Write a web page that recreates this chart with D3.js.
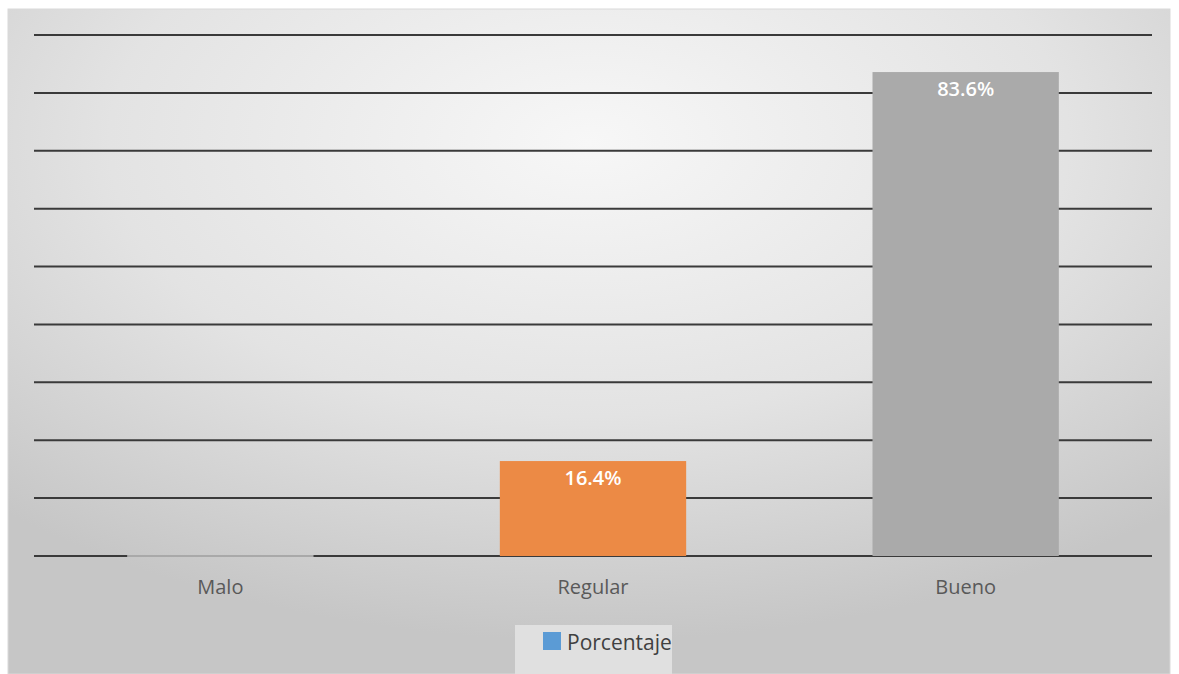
<!DOCTYPE html>
<html>
<head>
<meta charset="utf-8">
<title>Porcentaje</title>
<style>
  body { margin: 0; background: #fff; }
  svg { display: block; font-family: "Open Sans", "DejaVu Sans", sans-serif; }
</style>
</head>
<body>
<svg id="chart"></svg>
<script src="https://cdnjs.cloudflare.com/ajax/libs/d3/7.8.5/d3.min.js"></script>
<script>
var categories = ["Malo", "Regular", "Bueno"];
var values = [0, 16.4, 83.6];
var labels = ["", "16.4%", "83.6%"];
var barColors = ["#a9a9a9", "#ec8a45", "#aaaaaa"];
var seriesName = "Porcentaje";
var yTicks = [0, 10, 20, 30, 40, 50, 60, 70, 80, 90];

var width = 1179, height = 674;
var plot = { left: 34, right: 1152, top: 35, bottom: 556 };

var svg = d3.select("#chart").attr("width", width).attr("height", height);

var defs = svg.append("defs");
var grad = defs.append("radialGradient")
    .attr("id", "bg")
    .attr("cx", "50%").attr("cy", "20%").attr("r", "75%");
grad.append("stop").attr("offset", "0%").attr("stop-color", "#f7f7f7");
grad.append("stop").attr("offset", "55%").attr("stop-color", "#e3e3e3");
grad.append("stop").attr("offset", "100%").attr("stop-color", "#c6c6c6");

svg.append("rect")
    .attr("x", 8).attr("y", 9)
    .attr("width", 1162).attr("height", 665)
    .attr("fill", "url(#bg)")
    .attr("stroke", "#d9d9d9");

var x = d3.scaleBand()
    .domain(categories)
    .range([plot.left, plot.right])
    .paddingInner(0.5)
    .paddingOuter(0.25);

var y = d3.scaleLinear()
    .domain([0, 90])
    .range([plot.bottom, plot.top]);

// gridlines
svg.append("g")
    .selectAll("line")
    .data(yTicks)
    .enter()
    .append("line")
    .attr("x1", plot.left)
    .attr("x2", plot.right)
    .attr("y1", function(d) { return y(d); })
    .attr("y2", function(d) { return y(d); })
    .attr("stroke", "#3a3a3a")
    .attr("stroke-width", 2);

// bars
svg.append("g")
    .selectAll("rect")
    .data(values)
    .enter()
    .append("rect")
    .attr("x", function(d, i) { return x(categories[i]); })
    .attr("y", function(d) { return y(d) - (d === 0 ? 1 : 0); })
    .attr("width", x.bandwidth())
    .attr("height", function(d) { return Math.max(2, y(0) - y(d)); })
    .attr("fill", function(d, i) { return barColors[i]; });

// value labels
svg.append("g")
    .selectAll("text")
    .data(values)
    .enter()
    .append("text")
    .attr("x", function(d, i) { return x(categories[i]) + x.bandwidth() / 2; })
    .attr("y", function(d) { return y(d) + 24; })
    .attr("text-anchor", "middle")
    .attr("fill", "#ffffff")
    .attr("font-size", 20)
    .attr("font-weight", 600)
    .text(function(d, i) { return labels[i]; });

// category axis
var xAxis = svg.append("g")
    .attr("transform", "translate(0," + plot.bottom + ")")
    .call(d3.axisBottom(x).tickSize(0).tickPadding(24));
xAxis.select(".domain").remove();
xAxis.selectAll("text")
    .attr("fill", "#595959")
    .attr("font-size", 20)
    .attr("font-family", "\"Open Sans\", \"DejaVu Sans\", sans-serif");

// legend
var legend = svg.append("g").attr("transform", "translate(515,625)");
legend.append("rect")
    .attr("width", 157).attr("height", 49)
    .attr("fill", "#e0e0e0");
legend.append("rect")
    .attr("x", 28).attr("y", 7)
    .attr("width", 18).attr("height", 18)
    .attr("fill", "#5b9bd5");
legend.append("text")
    .attr("x", 52).attr("y", 25)
    .attr("fill", "#404040")
    .attr("font-size", 21)
    .text(seriesName);
</script>
</body>
</html>
